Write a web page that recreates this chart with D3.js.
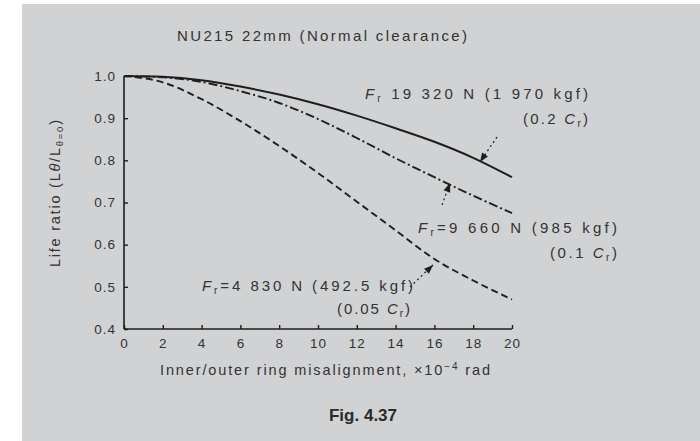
<!DOCTYPE html>
<html><head><meta charset="utf-8">
<script src="https://cdn.jsdelivr.net/npm/d3@7"></script>
<style>body{margin:0;background:#fff}svg{display:block}</style>
</head><body>
<script>
const xValues = [0,2,4,6,8,10,12,14,16,18,20];
const seriesSolid   = [1.0,0.998,0.99,0.975,0.956,0.933,0.906,0.876,0.844,0.806,0.76];
const seriesDashDot = [1.0,0.997,0.986,0.964,0.936,0.898,0.853,0.805,0.76,0.716,0.675];
const seriesDashed  = [1.0,0.985,0.945,0.893,0.834,0.77,0.702,0.634,0.566,0.515,0.47];
const xTicks = [0,2,4,6,8,10,12,14,16,18,20];
const yTicks = [0.4,0.5,0.6,0.7,0.8,0.9,1.0];
const yTickLabels = ["0.4","0.5","0.6","0.7","0.8","0.9","1.0"];

const W=700,H=441;
const svg=d3.select("body").append("svg").attr("width",W).attr("height",H);
svg.append("rect").attr("x",22).attr("y",4).attr("width",W-22).attr("height",H-4).attr("fill","#d1d2d4");

const x=d3.scaleLinear().domain([0,20]).range([124,512]);
const y=d3.scaleLinear().domain([0.4,1.0]).range([329,76]);
const ink="#1e1e1e";
const font="'Liberation Sans', Arial, sans-serif";

const gx=svg.append("g").attr("transform","translate(0,329)")
  .call(d3.axisBottom(x).tickValues(xTicks).tickSize(-4).tickPadding(9).tickFormat(d3.format("d")));
const gy=svg.append("g").attr("transform","translate(124,0)")
  .call(d3.axisLeft(y).tickValues(yTicks).tickSize(-4).tickPadding(8).tickFormat((d,i)=>yTickLabels[i]));
[gx,gy].forEach(g=>{
  g.select(".domain").attr("stroke",ink).attr("stroke-width",1.6);
  g.selectAll(".tick line").attr("stroke",ink).attr("stroke-width",1.4);
  g.selectAll(".tick text").attr("fill","#333").attr("font-family",font).attr("font-size",13.5).attr("letter-spacing",1);
});
gy.select(".domain").attr("d","M0,329V76");
gx.select(".domain").attr("d","M124,0H512");

const line=d3.line().x((d,i)=>x(xValues[i])).y(d=>y(d)).curve(d3.curveMonotoneX);
svg.append("path").datum(seriesSolid).attr("d",line).attr("fill","none").attr("stroke",ink).attr("stroke-width",2);
svg.append("path").datum(seriesDashDot).attr("d",line).attr("fill","none").attr("stroke",ink).attr("stroke-width",1.9).attr("stroke-dasharray","9,3,2,3");
svg.append("path").datum(seriesDashed).attr("d",line).attr("fill","none").attr("stroke",ink).attr("stroke-width",1.9).attr("stroke-dasharray","7,4");

svg.append("text").attr("x",177).attr("y",41).attr("font-family",font).attr("textLength",290).attr("lengthAdjust","spacing")
  .attr("font-size",15).attr("fill","#333").text("NU215  22mm (Normal clearance)");

svg.append("text").attr("transform","translate(60,267) rotate(-90)")
  .attr("font-family",font).attr("font-size",14.5).attr("fill","#333").attr("textLength",147).attr("lengthAdjust","spacing")
  .call(t=>{t.append("tspan").text("Life ratio (L");t.append("tspan").attr("font-style","italic").text("θ");
    t.append("tspan").text("/L");t.append("tspan").attr("font-size",9.5).attr("dy",3).text("θ=0");t.append("tspan").attr("dy",-3).text(")");});
svg.append("text").attr("x",160).attr("y",375).attr("font-family",font).attr("font-size",14.5).attr("fill","#333")
  .attr("textLength",330).attr("lengthAdjust","spacing")
  .call(t=>{t.append("tspan").text("Inner/outer ring misalignment, ×10");t.append("tspan").attr("font-size",10).attr("dy",-5).text("−4");
    t.append("tspan").attr("dy",5).text(" rad");});
svg.append("text").attr("x",363).attr("y",421).attr("text-anchor","middle").attr("font-family","'Liberation Sans Narrow','Liberation Sans',Arial,sans-serif")
  .attr("font-weight","bold").attr("font-size",17).attr("fill","#2a2a2a").text("Fig. 4.37");

const ann=[
  {x1:497,y1:137,x2:480,y2:162,l1:" 19 320 N (1 970 kgf)",l2:"(0.2 ",lx:365,w1:223,ly:99,rx:523,w2:65,ly2:124},
  {x1:442,y1:205,x2:450,y2:183,l1:"=9 660 N (985 kgf)",l2:"(0.1 ",lx:418,w1:199,ly:233,rx:550,w2:67,ly2:258},
  {x1:410,y1:287,x2:433,y2:265,l1:"=4 830 N (492.5 kgf)",l2:"(0.05 ",lx:202,w1:211,ly:291,rx:337,w2:73,ly2:314}
];
ann.forEach((a,i)=>{
  svg.append("line").attr("x1",a.x1).attr("y1",a.y1).attr("x2",a.x2).attr("y2",a.y2)
    .attr("stroke",ink).attr("stroke-width",1.2).attr("stroke-dasharray","2,3");
  const ang=Math.atan2(a.y2-a.y1,a.x2-a.x1);
  const L=9,wd=3.5;
  const bx=a.x2-L*Math.cos(ang),by=a.y2-L*Math.sin(ang);
  const px=-Math.sin(ang)*wd,py=Math.cos(ang)*wd;
  svg.append("path").attr("d",`M${a.x2},${a.y2}L${bx+px},${by+py}L${bx-px},${by-py}Z`).attr("fill",ink);
  const t=svg.append("text").attr("x",a.lx).attr("y",a.ly).attr("font-family",font).attr("font-size",15).attr("fill","#333")
    .attr("textLength",a.w1).attr("lengthAdjust","spacing");
  t.append("tspan").attr("font-style","italic").text("F");
  t.append("tspan").attr("font-size",10).attr("dy",3).text("r");
  t.append("tspan").attr("dy",-3).text(a.l1);
  const t2=svg.append("text").attr("x",a.rx).attr("y",a.ly2).attr("font-family",font).attr("font-size",15).attr("fill","#333")
    .attr("textLength",a.w2).attr("lengthAdjust","spacing");
  t2.append("tspan").text(a.l2);
  t2.append("tspan").attr("font-style","italic").text("C");
  t2.append("tspan").attr("font-size",10).attr("dy",3).text("r");
  t2.append("tspan").attr("dy",-3).text(")");
});
</script>
</body></html>
